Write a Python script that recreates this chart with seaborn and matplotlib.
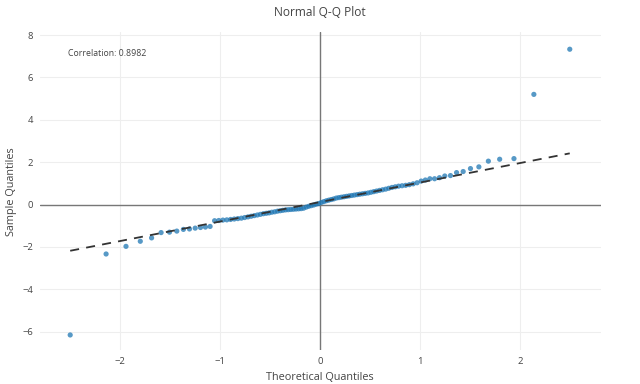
import matplotlib
matplotlib.use("Agg")
import matplotlib.pyplot as plt
import seaborn as sns
import numpy as np
import pandas as pd

# Theoretical normal quantiles (n = 100)
theoretical = [
    -2.498, -2.139, -1.940, -1.797, -1.684, -1.589, -1.505, -1.432, -1.366, -1.305,
    -1.248, -1.195, -1.146, -1.099, -1.054, -1.012, -0.971, -0.932, -0.894, -0.857,
    -0.821, -0.786, -0.753, -0.720, -0.688, -0.657, -0.626, -0.596, -0.566, -0.537,
    -0.509, -0.481, -0.453, -0.425, -0.398, -0.371, -0.344, -0.318, -0.292, -0.266,
    -0.240, -0.214, -0.189, -0.164, -0.138, -0.113, -0.088, -0.063, -0.038, -0.013,
    0.013, 0.038, 0.063, 0.088, 0.113, 0.138, 0.164, 0.189, 0.214, 0.240,
    0.266, 0.292, 0.318, 0.344, 0.371, 0.398, 0.425, 0.453, 0.481, 0.509,
    0.537, 0.566, 0.596, 0.626, 0.657, 0.688, 0.720, 0.753, 0.786, 0.821,
    0.857, 0.894, 0.932, 0.971, 1.012, 1.054, 1.099, 1.146, 1.195, 1.248,
    1.305, 1.366, 1.432, 1.505, 1.589, 1.684, 1.797, 1.940, 2.139, 2.498,
]

# Ordered sample values
sample = [
    -6.15, -2.33, -1.97, -1.73, -1.57, -1.32, -1.30, -1.25, -1.17, -1.15,
    -1.11, -1.08, -1.06, -1.03, -0.76, -0.75, -0.73, -0.72, -0.70, -0.68,
    -0.66, -0.64, -0.61, -0.58, -0.55, -0.52, -0.49, -0.46, -0.43, -0.41,
    -0.39, -0.36, -0.34, -0.31, -0.29, -0.27, -0.25, -0.24, -0.23, -0.22,
    -0.21, -0.20, -0.19, -0.17, -0.12, -0.08, -0.05, -0.02, 0.02, 0.05,
    0.10, 0.14, 0.18, 0.21, 0.24, 0.27, 0.31, 0.33, 0.35, 0.37,
    0.39, 0.41, 0.43, 0.45, 0.47, 0.49, 0.51, 0.53, 0.55, 0.58,
    0.61, 0.64, 0.67, 0.70, 0.73, 0.77, 0.81, 0.84, 0.87, 0.89,
    0.91, 0.94, 0.98, 1.03, 1.11, 1.16, 1.22, 1.22, 1.27, 1.35,
    1.37, 1.51, 1.56, 1.70, 1.78, 2.05, 2.14, 2.17, 5.20, 7.33,
]

# Reference line
line_slope = 0.92
line_intercept = 0.12

title = "Normal Q-Q Plot"
x_label = "Theoretical Quantiles"
y_label = "Sample Quantiles"
corr_text = "Correlation: 0.8982"
x_ticks = [-2, -1, 0, 1, 2]
y_ticks = [-6, -4, -2, 0, 2, 4, 6, 8]

df = pd.DataFrame({"theoretical": theoretical, "sample": sample})
line_x = [min(theoretical), max(theoretical)]
line_df = pd.DataFrame({"x": line_x,
                        "y": [line_intercept + line_slope * v for v in line_x]})

sns.set_theme(style="whitegrid")
plt.rcParams["font.family"] = ["Open Sans", "DejaVu Sans"]

fig = plt.figure(figsize=(6.4, 3.84), dpi=100)
ax = fig.add_axes([0.0625, 0.0885, 0.8765, 0.828])

ax.axhline(0, color="#777777", lw=1.0, zorder=1)
ax.axvline(0, color="#777777", lw=1.0, zorder=1)

sns.scatterplot(data=df, x="theoretical", y="sample", ax=ax, color="#1f77b4",
                alpha=0.75, s=14, edgecolor="none", zorder=3)
sns.lineplot(data=line_df, x="x", y="y", ax=ax, color="#333333", lw=1.3,
             linestyle=(0, (5, 4)), zorder=4)

ax.set_xlim(-2.8, 2.81)
ax.set_ylim(-6.86, 8.14)
ax.set_xticks(x_ticks)
ax.set_yticks(y_ticks)
ax.set_xticklabels(["\u22122", "\u22121", "0", "1", "2"])
ax.set_yticklabels(["\u22126", "\u22124", "\u22122", "0", "2", "4", "6", "8"])
ax.tick_params(axis="both", labelsize=6.8, colors="#444444", length=0, pad=5)
ax.grid(True, color="#eeeeee", lw=0.8)
for sp in ax.spines.values():
    sp.set_visible(False)
ax.set_facecolor("white")

ax.set_xlabel("")
ax.set_ylabel("")
fig.text(0.5, 1 - 378 / 384, x_label, ha="center", va="center",
         fontsize=7.8, color="#444444")
fig.text(12 / 640, 1 - 192 / 384, y_label, ha="center", va="center",
         rotation=90, fontsize=7.8, color="#444444")
fig.text(0.5, 1 - 13 / 384, title, ha="center", va="center", fontsize=8.6,
         color="#444444")
ax.text(-2.52, 7.15, corr_text, ha="left", va="center", fontsize=6.3,
        color="#444444")

fig.savefig("out.png", dpi=100, facecolor="white")
